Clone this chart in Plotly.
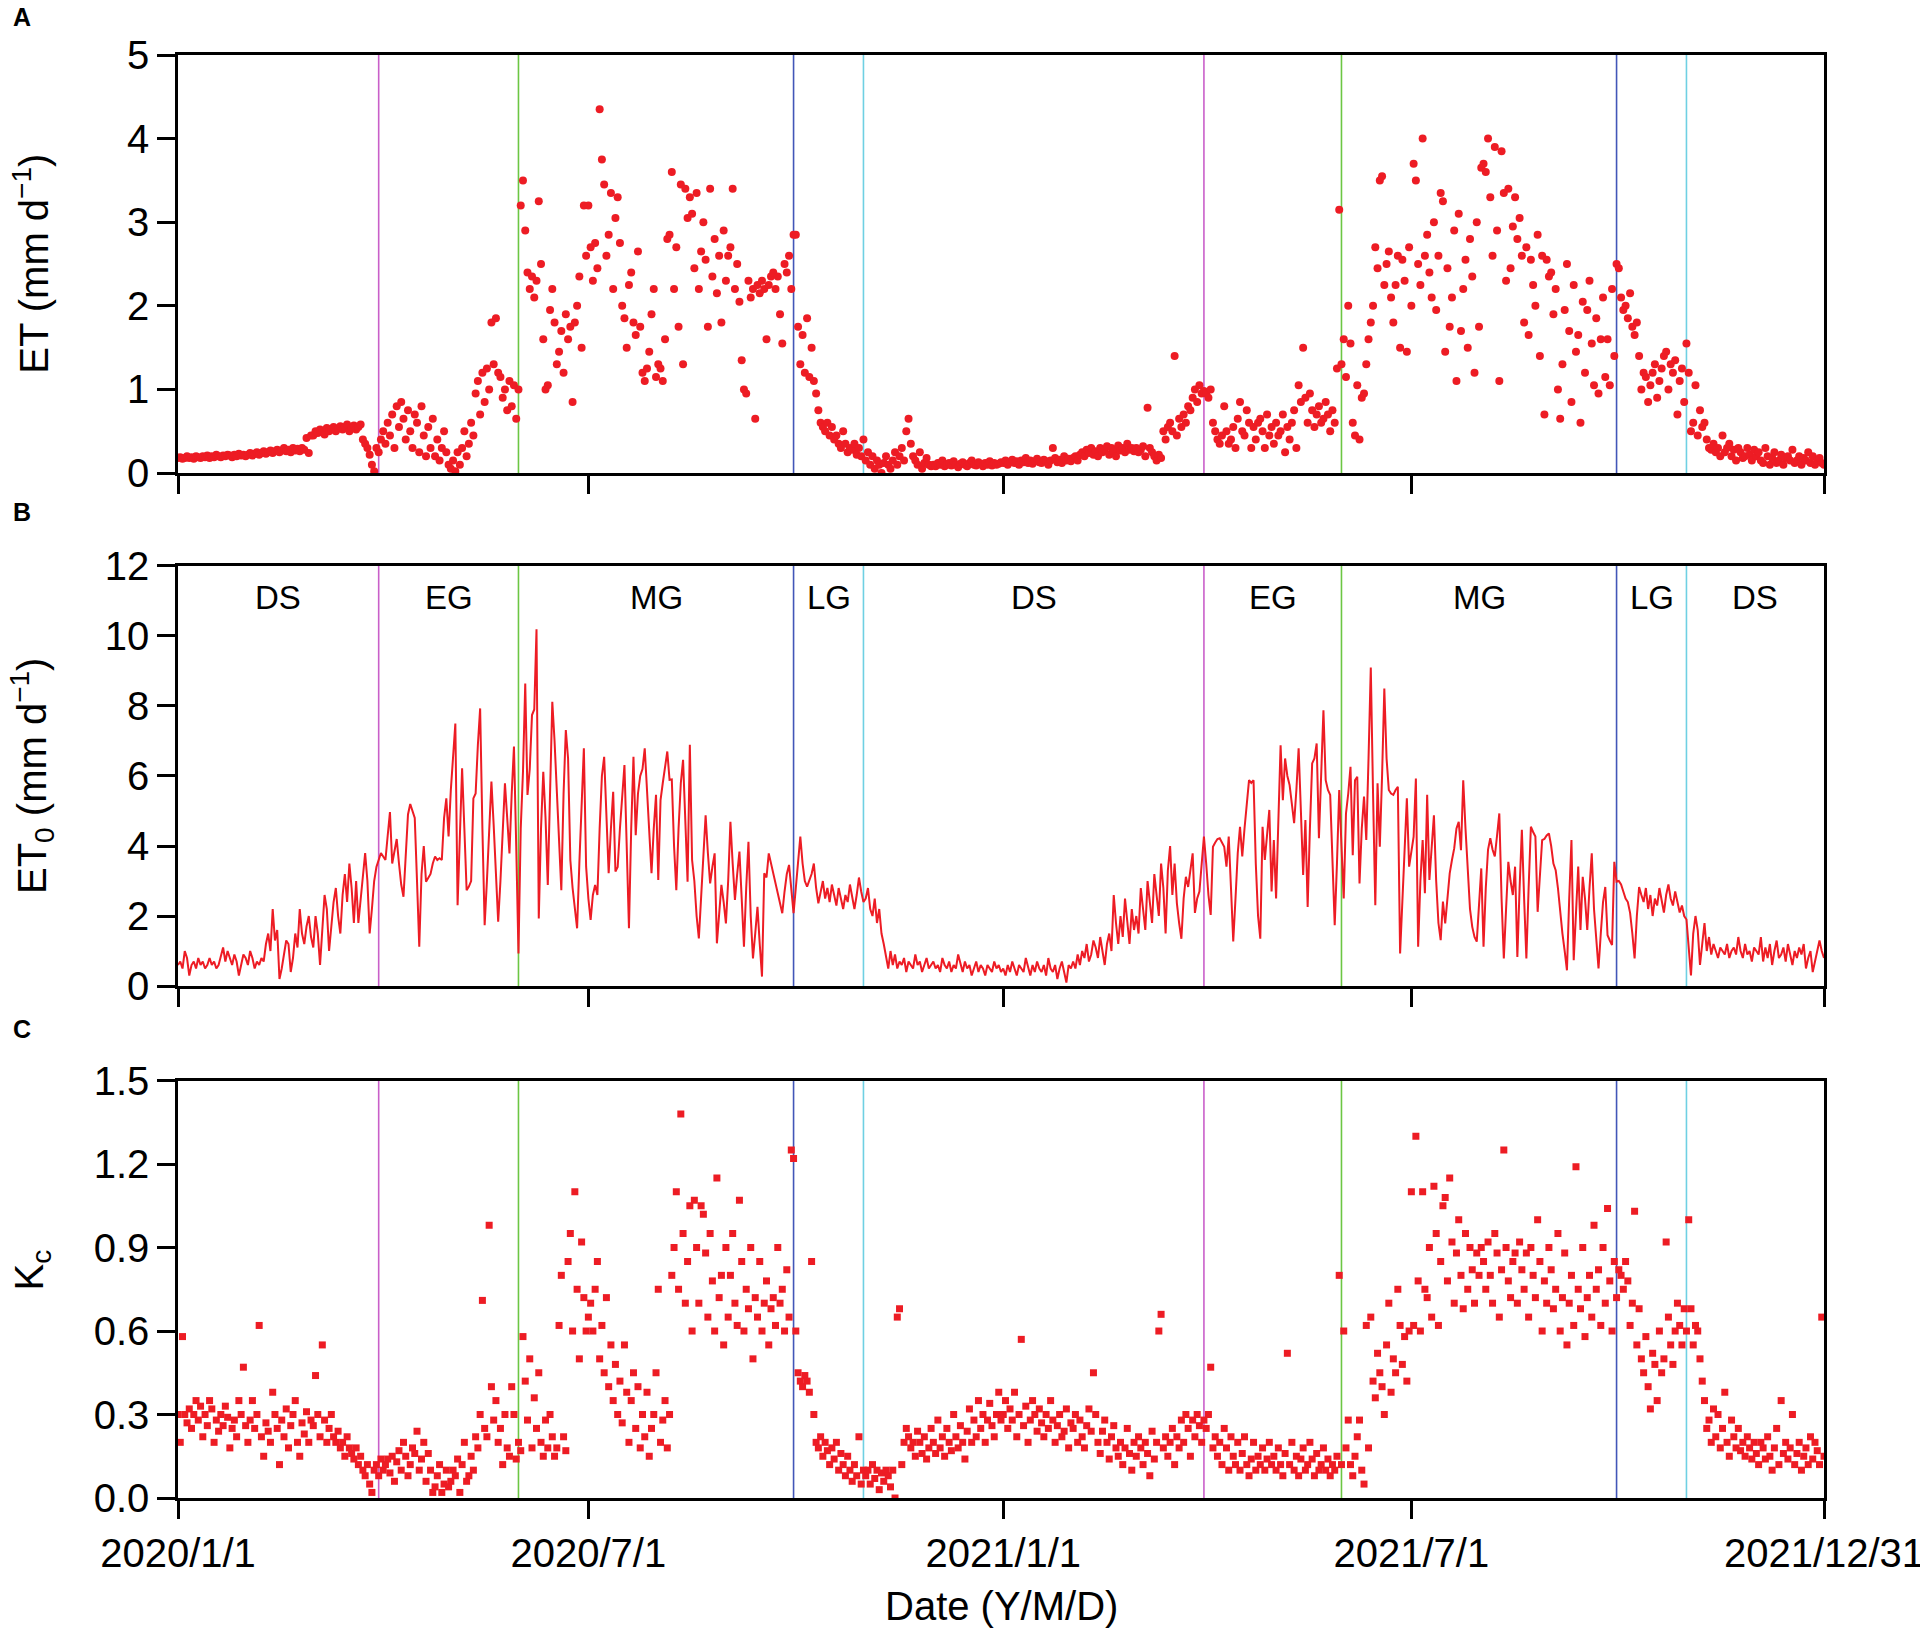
import numpy as np
import pandas as pd
import plotly.graph_objects as go

RED = "#ed1c24"
FONT = "Liberation Sans, Arial, sans-serif"

# daily values, one list per month (Jan 2020 ... Dec 2021)
et_vals = [
    [0.18, 0.19, 0.17, 0.18, 0.2, 0.18, 0.19, 0.17, 0.2, 0.19, 0.18, 0.2, 0.19, 0.21, 0.18, 0.2, 0.19, 0.22, 0.2, 0.19, 0.21, 0.2, 0.22, 0.21, 0.19, 0.22, 0.2, 0.23, 0.21, 0.22, 0.2],
    [0.22, 0.24, 0.21, 0.23, 0.25, 0.22, 0.24, 0.26, 0.23, 0.25, 0.27, 0.24, 0.26, 0.28, 0.25, 0.27, 0.3, 0.26, 0.28, 0.25, 0.3, 0.27, 0.29, 0.26, 0.3, 0.28, 0.42, 0.24, 0.45],
    [0.45, 0.5, 0.48, 0.52, 0.5, 0.46, 0.54, 0.5, 0.52, 0.55, 0.5, 0.53, 0.56, 0.52, 0.55, 0.58, 0.5, 0.54, 0.57, 0.52, 0.55, 0.58, 0.4, 0.35, 0.3, 0.22, 0.1, 0.02, 0.3, 0.25, 0.4],
    [0.5, 0.35, 0.6, 0.45, 0.7, 0.3, 0.8, 0.55, 0.85, 0.65, 0.4, 0.75, 0.5, 0.3, 0.7, 0.6, 0.25, 0.8, 0.45, 0.2, 0.55, 0.3, 0.65, 0.2, 0.4, 0.15, 0.3, 0.5, 0.25, 0.1],
    [0.05, 0.15, 0.02, 0.25, 0.1, 0.3, 0.5, 0.2, 0.35, 0.6, 0.45, 0.95, 1.1, 0.7, 1.2, 0.85, 1.25, 1.0, 1.8, 1.3, 1.85, 1.2, 1.15, 0.9, 1.0, 0.75, 1.1, 0.8, 1.05, 0.65, 1.0],
    [3.2, 3.5, 2.9, 2.4, 2.2, 2.35, 2.1, 2.3, 3.25, 2.5, 1.6, 1.0, 1.05, 1.95, 2.2, 1.8, 1.3, 1.45, 1.7, 1.2, 1.9, 1.6, 1.75, 0.85, 1.8, 2.0, 2.35, 1.5, 3.2, 2.6],
    [3.2, 2.7, 2.3, 2.75, 2.45, 4.35, 3.75, 3.45, 2.6, 2.85, 3.35, 2.2, 3.05, 3.3, 2.75, 2.0, 1.85, 1.5, 2.25, 2.4, 1.8, 1.65, 2.65, 1.75, 1.2, 1.1, 1.25, 1.45, 1.9, 2.2, 1.15],
    [1.3, 1.25, 1.1, 1.6, 2.8, 2.85, 3.6, 2.2, 2.7, 1.75, 3.45, 1.3, 3.4, 3.05, 3.3, 3.1, 2.45, 3.35, 2.2, 2.65, 3.0, 2.55, 1.75, 3.4, 2.35, 2.8, 2.15, 2.6, 1.8, 2.9, 2.3],
    [2.6, 2.7, 3.4, 2.2, 2.5, 2.05, 1.35, 1.0, 0.95, 2.3, 2.1, 2.2, 0.65, 2.25, 2.15, 2.3, 2.2, 1.6, 2.25, 2.35, 2.4, 2.2, 2.35, 1.9, 1.55, 2.5, 2.4, 2.6, 2.2, 2.85],
    [2.85, 1.75, 1.3, 1.65, 1.2, 1.85, 1.15, 1.5, 1.1, 0.95, 0.75, 0.6, 0.55, 0.5, 0.6, 0.45, 0.55, 0.4, 0.45, 0.35, 0.3, 0.5, 0.35, 0.25, 0.3, 0.28, 0.35, 0.22, 0.3, 0.2, 0.4],
    [0.15, 0.25, 0.1, 0.2, 0.05, 0.15, 0.1, 0.0, 0.12, 0.2, 0.1, 0.05, 0.15, 0.25, 0.1, 0.2, 0.3, 0.15, 0.5, 0.65, 0.35, 0.2, 0.15, 0.1, 0.25, 0.05, 0.12, 0.18, 0.1, 0.08],
    [0.1, 0.08, 0.12, 0.1, 0.15, 0.08, 0.1, 0.12, 0.09, 0.14, 0.1, 0.07, 0.11, 0.13, 0.1, 0.08, 0.12, 0.15, 0.1, 0.09, 0.13, 0.11, 0.08, 0.12, 0.1, 0.14, 0.09, 0.12, 0.1, 0.11, 0.13],
    [0.12, 0.15, 0.1, 0.13, 0.16, 0.12, 0.14, 0.1, 0.15, 0.13, 0.18, 0.12, 0.15, 0.11, 0.14, 0.17, 0.13, 0.12, 0.16, 0.14, 0.1, 0.15, 0.3, 0.18, 0.13, 0.16, 0.12, 0.2, 0.15, 0.17, 0.14],
    [0.18, 0.2, 0.15, 0.22, 0.25, 0.2, 0.28, 0.24, 0.3, 0.22, 0.26, 0.2, 0.3, 0.25, 0.28, 0.32, 0.22, 0.3, 0.26, 0.2, 0.33, 0.27, 0.3, 0.25, 0.35, 0.28, 0.3, 0.26],
    [0.3, 0.25, 0.28, 0.32, 0.2, 0.78, 0.3, 0.25, 0.2, 0.15, 0.22, 0.18, 0.5, 0.4, 0.55, 0.6, 0.5, 1.4, 0.45, 0.65, 0.55, 0.7, 0.6, 0.8, 0.75, 0.9, 1.0, 0.85, 1.05, 0.95, 0.98],
    [0.95, 0.9, 1.0, 0.6, 0.5, 0.4, 0.35, 0.45, 0.8, 0.5, 0.35, 0.4, 0.55, 0.3, 0.65, 0.85, 0.5, 0.45, 0.75, 0.6, 0.3, 0.55, 0.4, 0.6, 0.65, 0.5, 0.3, 0.7, 0.45, 0.55],
    [0.35, 0.6, 0.45, 0.5, 0.7, 0.25, 0.55, 0.4, 0.6, 0.75, 0.3, 1.05, 0.85, 1.5, 0.9, 0.6, 0.95, 0.75, 0.55, 0.7, 0.8, 0.6, 0.65, 0.85, 0.7, 0.5, 0.75, 0.6, 1.25, 3.15, 1.3],
    [1.6, 1.15, 2.0, 1.55, 0.6, 0.45, 1.05, 0.4, 0.9, 0.95, 1.3, 1.6, 1.8, 2.0, 2.7, 2.45, 3.5, 3.55, 2.25, 2.5, 2.65, 2.1, 1.8, 2.25, 2.6, 1.5, 2.55, 2.3, 1.45, 2.7],
    [2.0, 3.7, 3.5, 2.5, 2.25, 4.0, 2.6, 2.85, 2.4, 2.1, 3.0, 1.95, 2.6, 3.35, 3.25, 1.45, 2.45, 1.75, 2.1, 2.9, 1.1, 3.1, 1.7, 2.2, 2.55, 1.5, 2.8, 2.35, 1.2, 3.0, 1.75],
    [3.65, 3.7, 3.6, 4.0, 3.3, 2.6, 3.9, 2.9, 1.1, 3.85, 3.35, 2.3, 3.4, 2.45, 2.95, 3.3, 2.8, 3.05, 2.6, 1.8, 2.7, 1.65, 2.55, 2.25, 2.0, 2.85, 1.4, 2.6, 0.7, 2.55, 2.35],
    [2.4, 1.9, 2.2, 1.0, 0.65, 1.3, 1.95, 2.5, 1.7, 0.85, 2.25, 1.45, 1.65, 0.6, 2.05, 1.2, 1.95, 2.3, 1.55, 1.05, 1.85, 0.95, 1.6, 2.1, 1.15, 1.6, 1.05, 2.2, 1.4, 2.5],
    [2.45, 2.1, 1.95, 2.0, 1.85, 2.15, 1.75, 1.65, 1.8, 1.4, 1.0, 1.2, 1.15, 0.85, 1.05, 1.2, 1.3, 0.9, 1.1, 1.25, 1.4, 1.45, 1.0, 1.3, 1.2, 1.35, 0.7, 1.1, 1.25, 0.85, 1.55],
    [1.2, 0.5, 0.6, 1.05, 0.45, 0.75, 0.55, 0.6, 0.4, 0.3, 0.28, 0.35, 0.25, 0.3, 0.2, 0.45, 0.25, 0.3, 0.35, 0.2, 0.28, 0.15, 0.3, 0.25, 0.18, 0.2, 0.3, 0.22, 0.15, 0.28],
    [0.2, 0.25, 0.15, 0.12, 0.3, 0.2, 0.1, 0.18, 0.25, 0.12, 0.15, 0.22, 0.1, 0.18, 0.2, 0.15, 0.28, 0.12, 0.15, 0.2, 0.1, 0.18, 0.15, 0.25, 0.12, 0.2, 0.1, 0.15, 0.18, 0.12, 0.1],
]

et0_vals = [
    [0.6, 0.7, 0.5, 1.0, 0.8, 0.3, 0.6, 0.7, 0.5, 0.8, 0.6, 0.7, 0.5, 0.6, 0.8, 0.6, 0.7, 0.5, 0.6, 0.9, 1.1, 0.7, 1.0, 0.8, 0.6, 0.9, 0.7, 0.3, 0.6, 0.9, 0.8],
    [0.6, 1.0, 0.8, 0.5, 0.7, 0.6, 0.8, 0.7, 1.2, 1.5, 1.0, 2.2, 1.3, 1.6, 0.2, 0.5, 0.9, 1.3, 1.2, 0.4, 0.8, 1.5, 1.1, 2.2, 1.5, 1.2, 1.7, 2.0, 1.4],
    [1.1, 2.0, 1.5, 0.6, 1.8, 2.6, 2.2, 1.0, 1.7, 2.4, 2.8, 2.0, 1.5, 2.6, 3.2, 2.4, 3.5, 2.8, 1.8, 3.0, 1.8, 2.5, 3.2, 3.8, 3.0, 1.5, 2.2, 3.0, 3.4, 3.6, 3.8],
    [3.7, 3.6, 4.3, 4.97, 3.5, 3.9, 4.2, 3.5, 2.9, 2.55, 3.8, 4.9, 5.2, 5.0, 4.8, 3.0, 1.12, 3.2, 4.0, 2.98, 3.1, 3.2, 3.5, 3.7, 3.6, 3.65, 3.6, 4.8, 5.36, 4.27],
    [5.6, 6.5, 7.5, 2.31, 4.0, 6.22, 4.5, 2.74, 2.84, 3.0, 5.36, 5.5, 6.9, 7.93, 4.5, 1.74, 3.0, 4.65, 5.84, 4.6, 3.2, 1.84, 3.0, 4.5, 5.79, 4.8, 3.79, 5.5, 6.84, 4.0, 0.93],
    [4.5, 6.12, 8.64, 5.46, 6.2, 7.74, 7.9, 10.19, 1.93, 4.5, 6.12, 4.8, 2.89, 6.0, 8.12, 7.0, 5.5, 4.0, 2.74, 5.5, 7.31, 6.5, 3.6, 2.8, 2.2, 1.65, 3.5, 5.2, 6.79, 3.41],
    [2.5, 1.89, 2.6, 2.89, 2.6, 4.5, 6.0, 6.55, 5.0, 3.22, 4.5, 5.55, 3.27, 3.4, 4.5, 5.5, 6.31, 4.0, 1.65, 4.5, 6.55, 4.31, 5.5, 6.0, 6.2, 6.79, 5.5, 4.5, 3.22, 4.5, 5.46],
    [3.03, 5.31, 5.8, 6.3, 6.7, 5.89, 5.9, 4.0, 2.74, 4.5, 5.8, 6.46, 4.5, 2.98, 6.89, 3.6, 3.0, 2.0, 1.36, 2.5, 3.8, 4.88, 3.8, 2.93, 3.4, 3.79, 1.22, 2.0, 2.89, 2.4, 1.79],
    [3.0, 4.69, 3.5, 2.46, 3.2, 3.84, 2.5, 1.12, 2.8, 4.12, 2.0, 0.79, 1.5, 2.26, 1.2, 0.27, 3.22, 3.1, 3.79, 3.5, 3.2, 2.93, 2.6, 2.3, 2.08, 2.7, 3.2, 3.46, 2.8, 2.08],
    [2.8, 3.5, 4.27, 3.5, 3.0, 2.84, 3.0, 3.2, 3.5, 2.8, 2.36, 2.7, 3.0, 2.5, 2.8, 2.4, 2.9, 2.6, 2.3, 2.8, 2.5, 2.2, 2.6, 2.4, 2.9, 2.5, 2.2, 2.6, 3.1, 2.7, 2.4],
    [2.5, 2.8, 2.2, 2.0, 2.5, 1.8, 2.2, 1.5, 1.2, 0.8, 0.5, 1.0, 0.6, 0.9, 0.5, 0.7, 0.6, 0.8, 0.4, 0.7, 0.6, 0.5, 0.9, 0.6, 0.7, 0.4, 0.6, 0.8, 0.5, 0.6],
    [0.7, 0.5, 0.6, 0.4, 0.8, 0.6, 0.5, 0.7, 0.4, 0.6, 0.5, 0.9, 0.6, 0.4, 0.7, 0.5, 0.6, 0.3, 0.5, 0.7, 0.4, 0.6, 0.5, 0.3, 0.6, 0.5, 0.4, 0.7, 0.5, 0.6, 0.4],
    [0.5, 0.3, 0.6, 0.4, 0.7, 0.5, 0.3, 0.6, 0.5, 0.4, 0.8, 0.5, 0.3, 0.6, 0.4, 0.7, 0.5, 0.4, 0.6, 0.3, 0.8, 0.5, 0.4, 0.6, 0.2, 0.5, 0.7, 0.4, 0.1, 0.6, 0.5],
    [0.7, 0.5, 0.9, 0.6, 1.0, 0.8, 1.2, 0.7, 0.9, 1.3, 1.1, 0.8, 1.4, 1.0, 0.6, 1.2, 1.5, 1.0, 2.6, 1.8, 1.2, 2.0, 1.4, 2.5, 1.8, 1.2, 2.2, 1.6],
    [2.0, 1.5, 2.8, 2.2, 1.6, 3.0, 2.4, 1.8, 3.2, 2.5, 2.0, 3.5, 2.8, 1.5, 3.3, 4.0, 2.6, 3.5, 2.37, 1.8, 1.35, 2.5, 3.12, 2.83, 3.3, 3.79, 2.09, 2.5, 2.7, 3.5, 4.27],
    [3.5, 2.6, 2.03, 3.98, 4.1, 4.2, 4.22, 4.1, 3.98, 3.41, 4.27, 2.8, 1.27, 2.5, 3.8, 4.55, 3.7, 4.5, 5.2, 5.88, 5.8, 5.88, 3.5, 2.0, 1.35, 4.55, 3.6, 4.3, 5.03, 2.7],
    [4.17, 2.5, 4.5, 6.88, 5.31, 6.5, 6.0, 5.74, 5.2, 4.65, 5.6, 6.79, 5.0, 3.17, 4.74, 2.26, 4.5, 6.36, 6.5, 6.93, 4.22, 6.0, 7.88, 5.88, 5.6, 5.46, 3.5, 1.74, 3.5, 5.6, 4.0],
    [2.5, 4.93, 5.5, 6.26, 3.74, 5.88, 5.98, 2.93, 4.5, 5.41, 4.17, 6.5, 9.1, 5.5, 2.31, 5.79, 3.98, 6.0, 8.5, 6.5, 5.6, 5.5, 5.46, 5.6, 5.69, 0.93, 2.5, 4.0, 5.36, 3.41],
    [3.8, 4.27, 5.93, 1.12, 3.0, 4.17, 2.65, 5.46, 3.03, 4.0, 4.88, 3.0, 1.8, 1.31, 2.41, 1.79, 2.6, 3.22, 3.6, 3.93, 4.5, 4.69, 3.88, 5.88, 4.5, 3.22, 2.2, 1.69, 1.4, 1.27, 2.4],
    [3.36, 1.12, 2.8, 3.9, 4.22, 3.9, 3.7, 4.3, 4.93, 2.5, 0.79, 2.2, 3.55, 3.0, 2.6, 3.41, 0.83, 2.8, 4.46, 2.5, 0.79, 2.8, 4.55, 4.4, 4.27, 2.12, 3.2, 4.17, 4.2, 4.3, 4.36],
    [4.0, 3.5, 3.31, 2.8, 2.12, 1.5, 1.0, 0.45, 2.5, 4.17, 0.74, 2.2, 3.41, 1.6, 3.12, 2.5, 1.6, 2.8, 3.79, 2.2, 1.2, 0.5, 1.5, 2.4, 2.83, 1.45, 1.3, 1.17, 3.55, 2.98],
    [3.0, 2.9, 2.7, 2.5, 2.4, 2.09, 1.5, 0.79, 2.0, 2.83, 2.6, 2.4, 2.8, 2.2, 2.6, 2.0, 2.5, 2.3, 2.8, 2.4, 2.1, 2.6, 2.9, 2.5, 2.3, 2.7, 2.4, 2.1, 2.3, 2.0, 1.9],
    [1.2, 0.3, 1.5, 2.0, 1.6, 0.6, 1.2, 1.8, 1.0, 1.4, 0.9, 1.2, 1.0, 0.8, 1.1, 1.0, 0.9, 1.2, 0.8, 1.0, 1.1, 0.9, 1.4, 1.0, 0.8, 1.2, 0.9, 1.0, 0.7, 1.1],
    [1.0, 0.9, 1.4, 0.7, 1.1, 0.8, 1.2, 0.6, 1.0, 1.3, 0.8, 0.9, 1.1, 0.7, 1.2, 0.9, 0.6, 1.0, 0.8, 1.1, 0.9, 1.2, 0.5, 0.8, 1.0, 0.4, 0.7, 0.9, 1.3, 1.0, 0.8],
]

kc_vals = [
    [0.3, 0.2, 0.58, 0.3, 0.27, 0.32, 0.25, 0.3, 0.35, 0.28, 0.33, 0.22, 0.3, 0.26, 0.35, 0.32, 0.2, 0.28, 0.24, 0.3, 0.26, 0.33, 0.29, 0.18, 0.25, 0.28, 0.22, 0.35, 0.3, 0.47, 0.26],
    [0.2, 0.28, 0.35, 0.25, 0.3, 0.62, 0.22, 0.15, 0.27, 0.24, 0.2, 0.38, 0.3, 0.25, 0.12, 0.28, 0.22, 0.32, 0.18, 0.26, 0.3, 0.35, 0.2, 0.15, 0.27, 0.23, 0.31, 0.2, 0.28],
    [0.26, 0.44, 0.3, 0.22, 0.55, 0.28, 0.2, 0.25, 0.3, 0.22, 0.2, 0.24, 0.18, 0.2, 0.15, 0.22, 0.18, 0.16, 0.14, 0.18, 0.12, 0.15, 0.1, 0.08, 0.12, 0.05, 0.02, 0.1, 0.12, 0.08, 0.14],
    [0.1, 0.12, 0.14, 0.09, 0.15, 0.06, 0.13, 0.17, 0.1, 0.2, 0.15, 0.08, 0.12, 0.18, 0.16, 0.24, 0.1, 0.14, 0.2, 0.06, 0.16, 0.1, 0.02, 0.04, 0.08, 0.12, 0.02, 0.05, 0.1, 0.04],
    [0.06, 0.1, 0.08, 0.14, 0.02, 0.12, 0.2, 0.06, 0.08, 0.15, 0.1, 0.22, 0.18, 0.3, 0.71, 0.25, 0.22, 0.98, 0.4, 0.28, 0.35, 0.2, 0.25, 0.12, 0.3, 0.18, 0.15, 0.4, 0.3, 0.14, 0.2],
    [0.17, 0.58, 0.42, 0.28, 0.5, 0.18, 0.36, 0.25, 0.45, 0.2, 0.15, 0.28, 0.18, 0.3, 0.22, 0.15, 0.18, 0.62, 0.8, 0.22, 0.17, 0.85, 0.95, 0.6, 1.1, 0.75, 0.5, 0.92, 0.72, 0.6],
    [0.65, 0.7, 0.6, 0.75, 0.85, 0.5, 0.62, 0.45, 0.72, 0.4, 0.55, 0.35, 0.48, 0.3, 0.42, 0.27, 0.55, 0.38, 0.2, 0.35, 0.45, 0.25, 0.4, 0.18, 0.3, 0.22, 0.38, 0.15, 0.25, 0.3, 0.45],
    [0.75, 0.2, 0.28, 0.35, 0.18, 0.3, 0.8, 0.9, 1.1, 0.75, 1.38, 0.95, 0.7, 0.85, 1.05, 0.6, 1.07, 0.9, 0.7, 1.05, 1.02, 0.88, 0.65, 0.95, 0.78, 0.6, 1.15, 0.72, 0.8, 0.55, 0.9],
    [0.65, 0.8, 0.95, 0.7, 0.62, 1.07, 0.85, 0.6, 0.75, 0.68, 0.9, 0.5, 0.72, 0.65, 0.85, 0.6, 0.7, 0.78, 0.55, 0.68, 0.72, 0.62, 0.9, 0.7, 0.75, 0.6, 0.82, 0.65, 1.25, 1.22],
    [0.6, 0.45, 0.42, 0.4, 0.44, 0.42, 0.38, 0.85, 0.3, 0.2, 0.18, 0.22, 0.15, 0.2, 0.17, 0.12, 0.18, 0.14, 0.2, 0.1, 0.16, 0.12, 0.08, 0.15, 0.1, 0.06, 0.12, 0.08, 0.22, 0.05, 0.1],
    [0.08, 0.1, 0.05, 0.12, 0.07, 0.1, 0.03, 0.09, 0.06, 0.1, 0.08, 0.04, 0.1, 0.0, 0.65, 0.68, 0.12, 0.2, 0.25, 0.22, 0.18, 0.2, 0.15, 0.24, 0.2, 0.16, 0.22, 0.14, 0.18, 0.25],
    [0.2, 0.16, 0.28, 0.18, 0.22, 0.15, 0.25, 0.2, 0.17, 0.3, 0.22, 0.18, 0.26, 0.2, 0.14, 0.24, 0.32, 0.2, 0.28, 0.22, 0.35, 0.25, 0.3, 0.2, 0.28, 0.34, 0.26, 0.22, 0.3, 0.38, 0.28],
    [0.3, 0.35, 0.25, 0.32, 0.28, 0.38, 0.22, 0.3, 0.57, 0.26, 0.33, 0.2, 0.28, 0.35, 0.3, 0.24, 0.32, 0.27, 0.22, 0.3, 0.25, 0.35, 0.28, 0.2, 0.26, 0.3, 0.22, 0.24, 0.32, 0.18, 0.27],
    [0.25, 0.3, 0.2, 0.28, 0.22, 0.18, 0.26, 0.32, 0.24, 0.45, 0.3, 0.2, 0.16, 0.24, 0.28, 0.2, 0.14, 0.22, 0.26, 0.18, 0.15, 0.2, 0.12, 0.18, 0.25, 0.16, 0.1, 0.2],
    [0.15, 0.22, 0.18, 0.12, 0.2, 0.16, 0.08, 0.24, 0.14, 0.2, 0.6, 0.66, 0.18, 0.22, 0.15, 0.2, 0.25, 0.12, 0.22, 0.18, 0.28, 0.2, 0.3, 0.25, 0.15, 0.28, 0.22, 0.3, 0.26, 0.2, 0.28],
    [0.25, 0.3, 0.47, 0.18, 0.22, 0.15, 0.2, 0.12, 0.25, 0.18, 0.1, 0.22, 0.15, 0.12, 0.2, 0.1, 0.16, 0.22, 0.12, 0.08, 0.14, 0.2, 0.1, 0.15, 0.12, 0.18, 0.1, 0.14, 0.2, 0.12],
    [0.15, 0.1, 0.18, 0.12, 0.08, 0.16, 0.52, 0.12, 0.2, 0.1, 0.15, 0.08, 0.14, 0.18, 0.1, 0.12, 0.2, 0.14, 0.08, 0.16, 0.1, 0.12, 0.18, 0.1, 0.14, 0.08, 0.12, 0.1, 0.15, 0.8, 0.12],
    [0.6, 0.18, 0.28, 0.12, 0.08, 0.15, 0.22, 0.28, 0.1, 0.05, 0.62, 0.18, 0.65, 0.42, 0.36, 0.52, 0.45, 0.4, 0.3, 0.55, 0.7, 0.38, 0.5, 0.45, 0.75, 0.62, 0.48, 0.58, 0.42, 0.6],
    [1.1, 0.62, 1.3, 0.78, 0.6, 1.1, 0.75, 0.72, 0.9, 0.65, 1.12, 0.95, 0.62, 0.85, 1.05, 1.08, 0.78, 1.15, 0.92, 0.7, 0.88, 1.0, 0.8, 0.68, 0.95, 0.75, 0.9, 0.82, 0.7, 0.88, 0.8],
    [0.9, 0.85, 0.75, 0.92, 0.8, 0.7, 0.95, 0.88, 0.65, 0.82, 1.25, 0.9, 0.78, 0.72, 0.85, 0.88, 0.7, 0.92, 0.82, 0.75, 0.88, 0.65, 0.9, 0.8, 0.72, 1.0, 0.85, 0.6, 0.78, 0.7, 0.9],
    [0.82, 0.68, 0.75, 0.95, 0.6, 0.72, 0.88, 0.55, 0.7, 0.8, 0.62, 1.19, 0.75, 0.68, 0.9, 0.58, 0.72, 0.8, 0.65, 0.98, 0.75, 0.82, 0.62, 0.9, 0.7, 1.04, 0.78, 0.6, 0.85, 0.72],
    [0.82, 0.8, 0.75, 0.85, 0.78, 0.62, 0.7, 1.03, 0.55, 0.68, 0.5, 0.45, 0.58, 0.4, 0.32, 0.52, 0.48, 0.35, 0.6, 0.45, 0.5, 0.92, 0.65, 0.55, 0.48, 0.6, 0.7, 0.62, 0.55, 0.68, 0.6],
    [1.0, 0.68, 0.55, 0.62, 0.6, 0.5, 0.42, 0.35, 0.25, 0.28, 0.2, 0.32, 0.22, 0.3, 0.18, 0.25, 0.38, 0.2, 0.15, 0.28, 0.22, 0.18, 0.25, 0.17, 0.2, 0.15, 0.22, 0.18, 0.14, 0.2],
    [0.16, 0.12, 0.2, 0.18, 0.14, 0.22, 0.15, 0.1, 0.18, 0.25, 0.12, 0.35, 0.16, 0.2, 0.14, 0.18, 0.3, 0.12, 0.16, 0.2, 0.1, 0.15, 0.18, 0.12, 0.22, 0.14, 0.2, 0.17, 0.12, 0.65, 0.15],
]

# growth stage boundaries and colours
stage_dates = ["2020-03-30", "2020-05-31", "2020-09-30", "2020-10-31",
               "2021-03-31", "2021-05-31", "2021-09-30", "2021-10-31"]
stage_colors = ["#c95fc9", "#6cc644", "#4256b8", "#6fd0e3"] * 2
stage_names = ["DS", "EG", "MG", "LG", "DS", "EG", "MG", "LG", "DS"]

tick_dates = ["2020-01-01", "2020-07-01", "2021-01-01", "2021-07-01", "2021-12-31"]
tick_text = ["2020/1/1", "2020/7/1", "2021/1/1", "2021/7/1", "2021/12/31"]


def to_series(monthly):
    starts = pd.date_range("2020-01-01", periods=len(monthly), freq="MS")
    xs, ys = [], []
    for start, vals in zip(starts, monthly):
        ndays = start.days_in_month
        days = pd.date_range(start, periods=min(len(vals), ndays), freq="D")
        xs.extend(days)
        ys.extend(vals[:ndays])
    return xs, ys


et_x, et_y = to_series(et_vals)
et0_x, et0_y = to_series(et0_vals)
kc_x, kc_y = to_series(kc_vals)

fig = go.Figure()
fig.add_trace(go.Scatter(x=et_x, y=et_y, mode="markers", xaxis="x", yaxis="y",
                         marker=dict(symbol="circle", size=8, color=RED)))
fig.add_trace(go.Scatter(x=et0_x, y=et0_y, mode="lines", xaxis="x2", yaxis="y2",
                         line=dict(color=RED, width=2)))
fig.add_trace(go.Scatter(x=kc_x, y=kc_y, mode="markers", xaxis="x3", yaxis="y3",
                         marker=dict(symbol="square", size=7, color=RED)))

# vertical stage lines in every panel
for k in ["", "2", "3"]:
    for d, c in zip(stage_dates, stage_colors):
        fig.add_shape(type="line", xref="x" + k, yref="y" + k + " domain",
                      x0=d, x1=d, y0=0, y1=1, layer="below",
                      line=dict(color=c, width=1.6))

# stage labels centred between boundaries (panel B)
edges = pd.to_datetime(["2020-01-01"] + stage_dates + ["2021-12-31"])
for name, a, b in zip(stage_names, edges[:-1], edges[1:]):
    fig.add_annotation(x=a + (b - a) / 2, y=11.1, xref="x2", yref="y2",
                       text=name, showarrow=False,
                       font=dict(size=33, family=FONT, color="black"))

axis_common = dict(showgrid=False, zeroline=False, showline=True, linecolor="black",
                   linewidth=2.5, mirror=True, ticks="outside", ticklen=18,
                   tickwidth=2.5, tickcolor="black",
                   tickfont=dict(size=40, family=FONT, color="black"))

x_common = dict(axis_common, type="date", range=["2020-01-01", "2021-12-31"],
                tickmode="array", tickvals=tick_dates, ticktext=tick_text)

# page body has an 8px margin, so left/top margins are trimmed by 8px
fig.update_layout(
    width=1928, height=1632,
    margin=dict(l=170, r=110, t=47, b=142),
    paper_bgcolor="white", plot_bgcolor="white",
    showlegend=False,
    font=dict(family=FONT, color="black"),
    xaxis=dict(x_common, anchor="y", showticklabels=False),
    xaxis2=dict(x_common, anchor="y2", matches="x", showticklabels=False),
    xaxis3=dict(x_common, anchor="y3", matches="x"),
    yaxis=dict(axis_common, anchor="x", domain=[0.7103, 1.0], range=[0, 5],
               tickvals=[0, 1, 2, 3, 4, 5]),
    yaxis2=dict(axis_common, anchor="x2", domain=[0.3548, 0.6459], range=[0, 12],
                tickvals=[0, 2, 4, 6, 8, 10, 12]),
    yaxis3=dict(axis_common, anchor="x3", domain=[0.0, 0.2893], range=[0, 1.5],
                tickvals=[0, 0.3, 0.6, 0.9, 1.2, 1.5], tickformat=".1f"),
)

# axis titles and panel letters
titles = [("ET (mm d<sup>−1</sup>)", 0.855), ("ET<sub>0</sub> (mm d<sup>−1</sup>)", 0.500),
          ("K<sub>c</sub>", 0.158)]
for txt, yy in titles:
    fig.add_annotation(x=-0.089, y=yy, xref="paper", yref="paper", text=txt,
                       textangle=-90, showarrow=False, xanchor="center", yanchor="middle",
                       font=dict(size=40, family=FONT, color="black"))

fig.add_annotation(x=0.5, y=-0.0745, xref="paper", yref="paper", text="Date (Y/M/D)",
                   showarrow=False, xanchor="center", yanchor="middle",
                   font=dict(size=40, family=FONT, color="black"))

for letter, yy in [("A", 1.026), ("B", 0.683), ("C", 0.325)]:
    fig.add_annotation(x=-0.095, y=yy, xref="paper", yref="paper", text="<b>" + letter + "</b>",
                       showarrow=False, xanchor="center", yanchor="middle",
                       font=dict(size=25, family=FONT, color="black"))

fig.write_html("out.html")
